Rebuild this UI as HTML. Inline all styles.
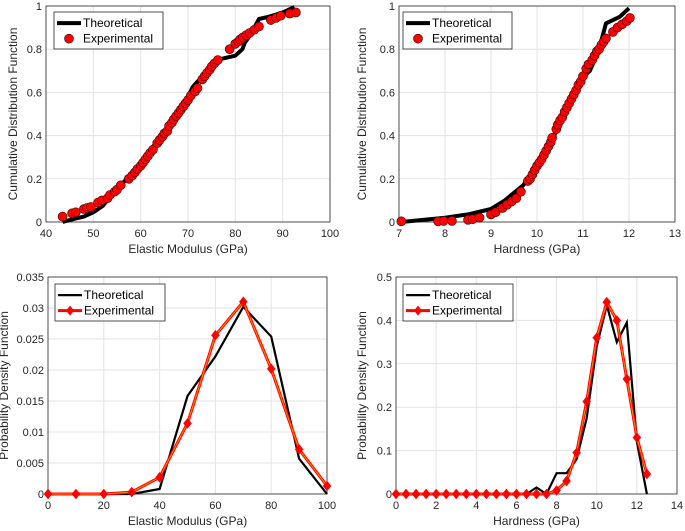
<!DOCTYPE html>
<html><head><meta charset="utf-8">
<style>
html,body{margin:0;padding:0;background:#fff;}
svg{display:block;font-family:"Liberation Sans",Arial,sans-serif;}
</style></head>
<body>
<svg id="fig" width="685" height="531" viewBox="0 0 685 531" xmlns="http://www.w3.org/2000/svg"></svg>
<script>
// Panel A: Elastic modulus CDF
const aExpX=[43.5,45.5,46.3,48,48.7,49.5,51,51.8,53,53.5,54.5,55,55.8,57.5,58.2,58.8,59.3,60,60.5,61,61.5,62,62.6,63.5,64,64.6,65,65.6,66,66.6,67,67.5,68,68.5,69,69.5,70,70.6,71.5,72,73,73.5,74,74.6,75,75.6,76.3,78.8,80,80.6,81,81.6,82.3,83,84,85,87.5,88.6,89.6,91.5,92.8];
const aExpY=[.025,.04,.045,.06,.065,.07,.09,.1,.11,.125,.14,.15,.17,.2,.215,.23,.245,.26,.275,.29,.305,.32,.335,.365,.38,.395,.41,.42,.445,.46,.475,.49,.505,.52,.535,.55,.565,.585,.605,.62,.66,.675,.69,.705,.72,.735,.75,.8,.825,.835,.845,.855,.865,.875,.89,.905,.935,.945,.955,.965,.97];
const aThX=[43.5,46,48,50,52,53.5,56,60,65,70,71,72,75,77,78,80,81.5,82,83,85,87,90,92.5];
const aThY=[0,.015,.025,.045,.075,.115,.175,.27,.42,.58,.625,.65,.71,.755,.76,.77,.8,.83,.86,.94,.95,.97,.995];
// Panel B: Hardness CDF
const bExpX=[7.05,7.85,7.97,8.15,8.5,8.6,8.75,9,9.1,9.25,9.35,9.45,9.55,9.65,9.8,9.85,9.9,9.95,10,10.05,10.1,10.15,10.2,10.25,10.3,10.33,10.42,10.45,10.5,10.55,10.6,10.65,10.7,10.75,10.8,10.85,10.9,10.95,11,11.07,11.12,11.2,11.25,11.3,11.35,11.4,11.45,11.5,11.65,11.75,11.85,11.95,12.02];
const bExpY=[.003,.003,.005,.005,.01,.013,.02,.035,.045,.065,.08,.095,.11,.14,.19,.2,.22,.24,.26,.275,.29,.31,.33,.35,.37,.39,.43,.45,.47,.485,.51,.53,.55,.57,.59,.61,.635,.65,.675,.71,.73,.75,.77,.79,.8,.82,.835,.85,.88,.9,.915,.93,.945];
const bThX=[7.05,8,8.5,9,9.3,9.7,10,10.5,11,11.15,11.25,11.35,11.5,11.8,12];
const bThY=[0,.02,.035,.06,.1,.17,.26,.45,.67,.7,.75,.8,.92,.95,.99];
// Panel C: Elastic modulus PDF
const cX=[0,10,20,30,40,50,60,70,80,90,100];
const cExp=[0,0,0,.0003,.0027,.0114,.0256,.031,.0202,.0072,.0013];
const cTh=[0,0,0,0,.0008,.0158,.0222,.0302,.0254,.0057,0];
// Panel D: Hardness PDF
const dX=[0,.5,1,1.5,2,2.5,3,3.5,4,4.5,5,5.5,6,6.5,7,7.5,8,8.5,9,9.5,10,10.5,11,11.5,12,12.5];
const dExp=[0,0,0,0,0,0,0,0,0,0,0,0,0,0,0,0,.008,.03,.095,.213,.36,.442,.4,.265,.13,.046];
const dTh=[0,0,0,0,0,0,0,0,0,0,0,0,0,0,.015,0,.048,.048,.08,.175,.34,.435,.35,.395,.12,0];
const aXT=[40,50,60,70,80,90,100], aYT=[0,0.2,0.4,0.6,0.8,1];
const bXT=[7,8,9,10,11,12,13];
const cXT=[0,20,40,60,80,100], cYT=[0,0.005,0.01,0.015,0.02,0.025,0.03,0.035];
const dXT=[0,2,4,6,8,10,12,14], dYT=[0,0.1,0.2,0.3,0.4,0.5];

const NS="http://www.w3.org/2000/svg";
const fig=document.getElementById('fig');
function el(tag,attrs,parent){const e=document.createElementNS(NS,tag);for(const k in attrs)e.setAttribute(k,attrs[k]);(parent||fig).appendChild(e);return e;}

function panel(p){
  const g=el('g',{});
  
  
  const sx=v=>p.x0+(v-p.xmin)/(p.xmax-p.xmin)*(p.x1-p.x0);
  const sy=v=>p.y0-(v-p.ymin)/(p.ymax-p.ymin)*(p.y0-p.y1);
  el('rect',{x:p.x0,y:p.y1,width:p.x1-p.x0,height:p.y0-p.y1,fill:'#fff'},g);
  p.xt.forEach(t=>{const x=sx(t);
    const l=el('line',{x1:x,x2:x,y1:p.y1,y2:p.y0,stroke:'#e3e3e3','stroke-width':1},g);
    
    const tx=el('text',{x:x,y:p.y0+15,'text-anchor':'middle','font-size':11,fill:'#262626'},g);
    tx.textContent=String(t);
    });
  p.yt.forEach(t=>{const y=sy(t);
    const l=el('line',{x1:p.x0,x2:p.x1,y1:y,y2:y,stroke:'#e3e3e3','stroke-width':1},g);
    
    const tx=el('text',{x:p.x0-4,y:y+4,'text-anchor':'end','font-size':11,fill:'#262626'},g);
    tx.textContent=String(t);
    });
  const box=el('rect',{x:p.x0,y:p.y1,width:p.x1-p.x0,height:p.y0-p.y1,fill:'none',stroke:'#262626','stroke-width':0.8},g);
  
  const xl=el('text',{x:(p.x0+p.x1)/2,y:p.y0+31,'text-anchor':'middle','font-size':12,fill:'#262626'},g);
  xl.textContent=p.xlabel;
  const yc=(p.y0+p.y1)/2;
  const yl=el('text',{x:p.ylx,y:yc,'text-anchor':'middle','font-size':12,fill:'#262626',transform:`rotate(-90 ${p.ylx} ${yc})`},g);
  yl.textContent=p.ylabel;
  const pts=(X,Y)=>X.map((x,i)=>sx(x).toFixed(1)+','+sy(Y[i]).toFixed(1)).join(' ');
  if(p.type==='cdf'){
    const th=el('polyline',{points:pts(p.thX,p.thY),fill:'none',stroke:'#000','stroke-width':4,'stroke-linejoin':'round'},g);
    
    p.exX.forEach((x,i)=>{const c=el('circle',{cx:sx(x),cy:sy(p.exY[i]),r:4.5,fill:'#f00',stroke:'#3a0000','stroke-width':0.6},g);
      });
  } else {
    const th=el('polyline',{points:pts(p.X,p.th),fill:'none',stroke:'#000','stroke-width':2.2},g);
    
    const ex=el('polyline',{points:pts(p.X,p.ex),fill:'none',stroke:'#f00','stroke-width':3},g);
    
    el('polyline',{points:pts(p.X,p.ex),fill:'none',stroke:'#ff8c00','stroke-width':1},g);
    p.X.forEach((x,i)=>{const X=sx(x),Y=sy(p.ex[i]);
      const d=el('polygon',{points:`${X},${Y-5} ${X+4},${Y} ${X},${Y+5} ${X-4},${Y}`,fill:'#f00',stroke:'#f00','stroke-width':0.5},g);
      });
  }
  const L=p.leg;
  const lg=el('g',{},g);
  
  el('rect',{x:L.x,y:L.y,width:L.w,height:L.h,fill:'#fff',stroke:'#262626','stroke-width':0.8},lg);
  const r1=L.y+L.h*0.3, r2=L.y+L.h*0.72;
  const e1=el('g',{},lg);
  el('line',{x1:L.x+3,x2:L.x+27,y1:r1,y2:r1,stroke:'#000','stroke-width':p.type==='cdf'?4:2.2},e1);
  const t1=el('text',{x:L.x+29,y:r1+4,'font-size':12,fill:'#000'},e1);t1.textContent='Theoretical';
  const e2=el('g',{},lg);
  if(p.type==='cdf'){el('circle',{cx:L.x+15,cy:r2,r:4.5,fill:'#f00',stroke:'#3a0000','stroke-width':0.6},e2);}
  else{el('line',{x1:L.x+3,x2:L.x+27,y1:r2,y2:r2,stroke:'#f00','stroke-width':3},e2);
    el('polygon',{points:`${L.x+15},${r2-5} ${L.x+19},${r2} ${L.x+15},${r2+5} ${L.x+11},${r2}`,fill:'#f00'},e2);}
  const t2=el('text',{x:L.x+29,y:r2+4,'font-size':12,fill:'#000'},e2);t2.textContent='Experimental';
}
panel({name:'elastic-modulus-cdf-chart',type:'cdf',x0:46,x1:330,y0:222,y1:6,xmin:40,xmax:100,ymin:0,ymax:1,xt:aXT,yt:aYT,
  xlabel:'Elastic Modulus (GPa)',ylabel:'Cumulative Distribution Function',ylx:17,thX:aThX,thY:aThY,exX:aExpX,exY:aExpY,leg:{x:54,y:12,w:109,h:37}});
panel({name:'hardness-cdf-chart',type:'cdf',x0:399,x1:675,y0:222,y1:6,xmin:7,xmax:13,ymin:0,ymax:1,xt:bXT,yt:aYT,
  xlabel:'Hardness (GPa)',ylabel:'Cumulative Distribution Function',ylx:366,thX:bThX,thY:bThY,exX:bExpX,exY:bExpY,leg:{x:403,y:12,w:109,h:37}});
panel({name:'elastic-modulus-pdf-chart',type:'pdf',x0:48,x1:327,y0:494,y1:277,xmin:0,xmax:100,ymin:0,ymax:0.035,xt:cXT,yt:cYT,
  xlabel:'Elastic Modulus (GPa)',ylabel:'Probability Density Function',ylx:8,X:cX,ex:cExp,th:cTh,leg:{x:55,y:284,w:110,h:37}});
panel({name:'hardness-pdf-chart',type:'pdf',x0:396,x1:677,y0:494,y1:277,xmin:0,xmax:14,ymin:0,ymax:0.5,xt:dXT,yt:dYT,
  xlabel:'Hardness (GPa)',ylabel:'Probability Density Function',ylx:366,X:dX,ex:dExp,th:dTh,leg:{x:403,y:284,w:110,h:37}});
</script>
</body></html>
